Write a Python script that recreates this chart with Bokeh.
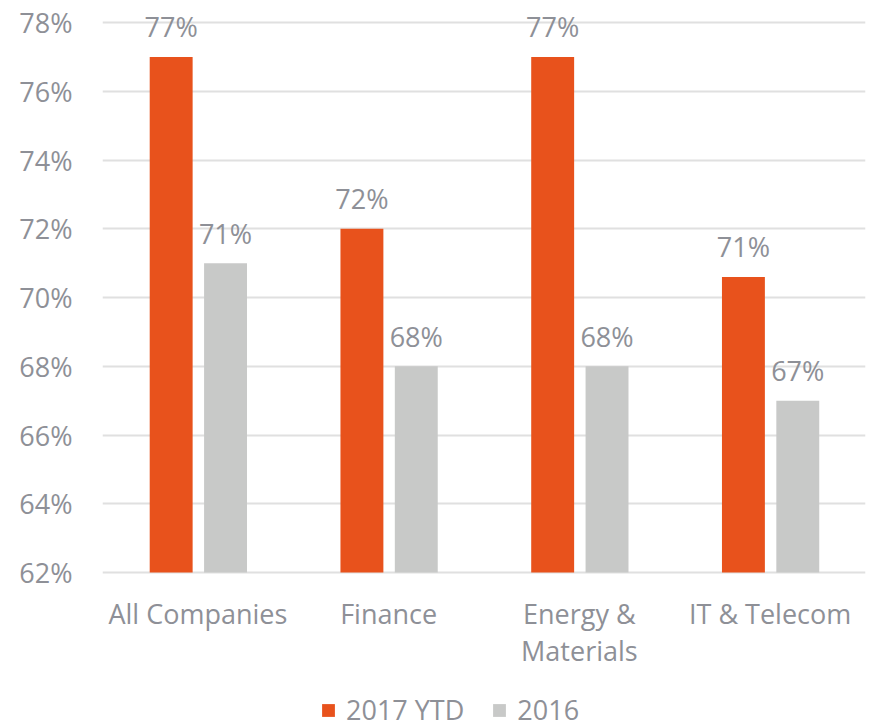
from bokeh.plotting import figure
from bokeh.models import FactorRange, Range1d, FixedTicker, Legend, LegendItem, ColumnDataSource
from bokeh.transform import dodge
from bokeh.embed import file_html
from bokeh.resources import INLINE

categories = ["All Companies", "Finance", "Energy &\nMaterials", "IT & Telecom"]
series_2017 = [77.0, 72.0, 77.0, 70.6]
series_2016 = [71.0, 68.0, 68.0, 67.0]
labels_2017 = ["77%", "72%", "77%", "71%"]
labels_2016 = ["71%", "68%", "68%", "67%"]
y_ticks = [62, 64, 66, 68, 70, 72, 74, 76, 78]
y_base = 62

FONT = "Open Sans"
TXT = "#8e9097"
ORANGE = "#E8521C"
GREY = "#C8C9C8"

src = ColumnDataSource(dict(cat=categories, a=series_2017, b=series_2016,
                            la=labels_2017, lb=labels_2016,
                            base=[y_base] * len(categories)))

# frame spans the whole height; values below 62 only hold the category labels and legend
p = figure(frame_width=763, frame_height=728, x_range=FactorRange(*categories, range_padding=0),
           y_range=Range1d(57.462, 78.64), output_backend="svg", toolbar_location=None,
           min_border_left=102, min_border_right=4, min_border_top=0, min_border_bottom=0)
p.outline_line_color = None
p.xaxis.visible = False

ra = p.vbar(x=dodge("cat", -0.14, range=p.x_range), top="a", bottom="base", width=0.225,
            source=src, fill_color=ORANGE, line_color=None)
rb = p.vbar(x=dodge("cat", 0.145, range=p.x_range), top="b", bottom="base", width=0.225,
            source=src, fill_color=GREY, line_color=None)

p.text(x=dodge("cat", -0.14, range=p.x_range), y="a", text="la", source=src,
       text_align="center", text_baseline="alphabetic", y_offset=-30,
       text_font={"value": FONT}, text_font_size="27px", text_color=TXT)
p.text(x=dodge("cat", 0.145, range=p.x_range), y="b", text="lb", source=src,
       text_align="center", text_baseline="alphabetic", y_offset=-30,
       text_font={"value": FONT}, text_font_size="27px", text_color=TXT)

# category labels under the baseline
p.text(x="cat", y="base", text="cat", source=src, text_align="center", text_baseline="top",
       y_offset=22, text_line_height=1.0,
       text_font={"value": FONT}, text_font_size="27px", text_color=TXT)

p.yaxis.ticker = FixedTicker(ticks=y_ticks)
p.yaxis.major_label_overrides = {t: f"{t}%" for t in y_ticks}
p.yaxis.axis_line_color = None
p.yaxis.major_tick_line_color = None
p.yaxis.minor_tick_line_color = None
p.yaxis.major_label_standoff = 24
p.yaxis.major_label_text_font = FONT
p.yaxis.major_label_text_font_size = "27px"
p.yaxis.major_label_text_color = TXT

p.xgrid.grid_line_color = None
p.ygrid.grid_line_color = "#e0e0e0"
p.ygrid.grid_line_width = 2

legend = Legend(items=[LegendItem(label="2017 YTD", renderers=[ra]),
                       LegendItem(label="2016", renderers=[rb])],
                orientation="horizontal", location=(218, 0),
                label_text_font=FONT, label_text_font_size="27px", label_text_color=TXT,
                glyph_width=16, glyph_height=16, label_standoff=10, spacing=27,
                border_line_color=None, background_fill_alpha=0,
                padding=0, margin=0)
p.add_layout(legend, "center")

open("out.html", "w").write(file_html(p, INLINE))
